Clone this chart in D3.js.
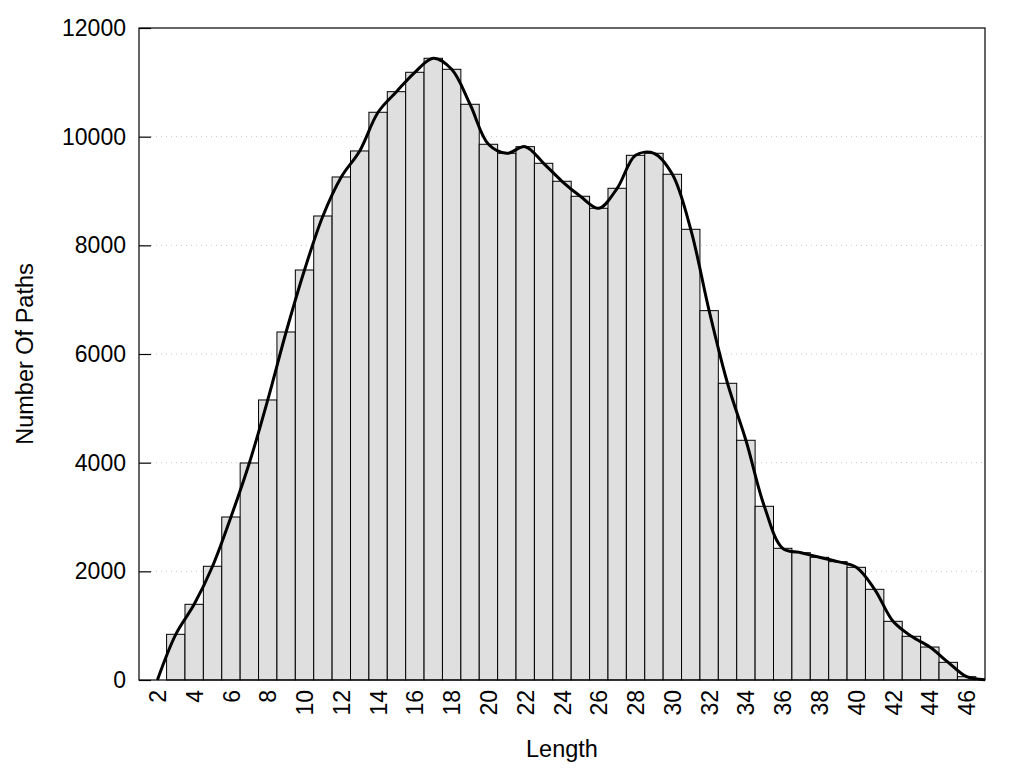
<!DOCTYPE html>
<html><head><meta charset="utf-8">
<script src="https://cdn.jsdelivr.net/npm/d3@7"></script>
<style>
body{margin:0;background:#fff;}
text{font-family:"Liberation Sans",Arial,sans-serif;}
</style></head>
<body><svg id="c" width="1024" height="768"></svg>
<script>
const lengths = [3,4,5,6,7,8,9,10,11,12,13,14,15,16,17,18,19,20,21,22,23,24,25,26,27,28,29,30,31,32,33,34,35,36,37,38,39,40,41,42,43,44,45,46];
const counts = [841,1393,2093,3000,3994,5154,6405,7546,8540,9258,9737,10449,10828,11185,11443,11240,10596,9860,9694,9816,9510,9179,8903,8682,9050,9657,9694,9308,8295,6798,5461,4412,3197,2424,2343,2258,2178,2074,1669,1080,804,607,325,61];
const curveX = [2].concat(lengths, [47]);
const curveY = [0].concat(counts, [5]);
const xTicks = [2,4,6,8,10,12,14,16,18,20,22,24,26,28,30,32,34,36,38,40,42,44,46];
const yTicks = [0,2000,4000,6000,8000,10000,12000];

const svg = d3.select("#c");
const L=139,R=985,T=28,B=680;
const FS = 23;
const x = d3.scaleLinear().domain([1,47]).range([L,R]);
const y = d3.scaleLinear().domain([0,12000]).range([B,T]);

// grid
svg.append("g").selectAll("line").data(yTicks.filter(v=>v>0&&v<12000)).join("line")
  .attr("x1",L+12).attr("x2",R).attr("y1",d=>y(d)).attr("y2",d=>y(d))
  .attr("stroke","#c8c8c8").attr("stroke-width",1).attr("stroke-dasharray","1,4");

// bars
svg.append("g").selectAll("rect").data(lengths).join("rect")
  .attr("x",(d)=>x(d-0.5)).attr("width",d=>x(d+0.5)-x(d-0.5))
  .attr("y",(d,i)=>y(counts[i])).attr("height",(d,i)=>y(0)-y(counts[i]))
  .attr("fill","#dfdfdf").attr("stroke","#000").attr("stroke-width",1);

// curve
const pts = curveX.map((v,i)=>[v,curveY[i]]);
svg.append("path").datum(pts)
  .attr("d",d3.line().x(d=>x(d[0])).y(d=>y(d[1])).curve(d3.curveCatmullRom.alpha(0.5)))
  .attr("fill","none").attr("stroke","#000").attr("stroke-width",3).attr("stroke-linejoin","round");

// border
svg.append("rect").attr("x",L).attr("y",T).attr("width",R-L).attr("height",B-T)
  .attr("fill","none").attr("stroke","#000").attr("stroke-width",1.2);

// y axis
const ya = svg.append("g").attr("transform",`translate(${L},0)`)
  .call(d3.axisLeft(y).tickValues(yTicks).tickFormat(d3.format("d")).tickSize(-12).tickPadding(13));
ya.select(".domain").remove();
ya.selectAll("line").attr("stroke","#000").attr("stroke-width",1.2);
ya.selectAll("text").attr("font-size",FS).attr("fill","#000").style("font-family","'Liberation Sans',Arial,sans-serif");

// x axis
const xa = svg.append("g").attr("transform",`translate(0,${B})`)
  .call(d3.axisBottom(x).tickValues(xTicks).tickSize(0).tickPadding(0));
xa.select(".domain").remove();
xa.selectAll("text").attr("font-size",FS).attr("fill","#000")
  .style("font-family","'Liberation Sans',Arial,sans-serif")
  .attr("text-anchor","end").attr("y",0).attr("dy","0.35em")
  .attr("transform","translate(0,10) rotate(-90)").attr("x",0);

// titles
svg.append("text").attr("x",(L+R)/2).attr("y",757).attr("text-anchor","middle")
  .attr("font-size",23.5).text("Length");
svg.append("text").attr("transform","translate(33,354) rotate(-90)").attr("text-anchor","middle")
  .attr("font-size",23.5).text("Number Of Paths");
</script></body></html>
